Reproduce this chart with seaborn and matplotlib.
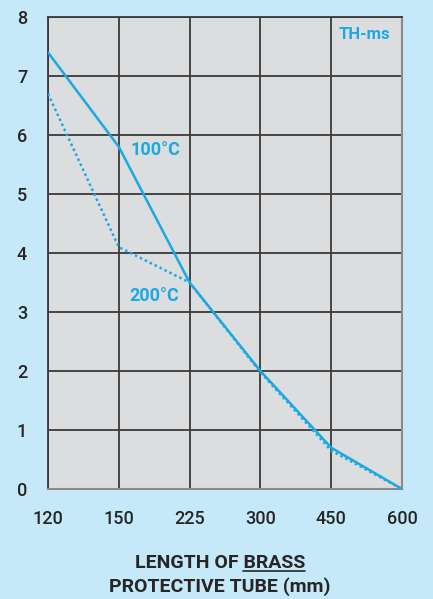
import matplotlib
matplotlib.use("Agg")
import matplotlib.pyplot as plt
import seaborn as sns
import pandas as pd

lengths = ["120", "150", "225", "300", "450", "600"]
temp_100 = [7.4, 5.8, 3.5, 2.0, 0.7, 0.0]
temp_200 = [6.7, 4.1, 3.5, 1.98, 0.65, 0.0]
series_labels = ["100°C", "200°C"]
y_ticks = [0, 1, 2, 3, 4, 5, 6, 7, 8]

BG = "#c6e9f9"
PANEL = "#dcdddf"
CYAN = "#1aa9e1"
GRID = "#3a3a3a"
TXT = "#262626"

sns.set_theme(style="white")
plt.rcParams["font.family"] = ["Roboto", "DejaVu Sans"]

fig = plt.figure(figsize=(4.33, 5.99), dpi=100, facecolor=BG)
ax = fig.add_axes([48/433, 110/599, 354/433, 472/599])
ax.set_facecolor(PANEL)

df = pd.DataFrame({"length": lengths * 2,
                   "value": temp_100 + temp_200,
                   "series": [series_labels[0]] * 6 + [series_labels[1]] * 6})

sns.lineplot(data=df[df.series == series_labels[0]], x="length", y="value",
             color=CYAN, lw=1.8, sort=False, ax=ax, zorder=5)
sns.lineplot(data=df[df.series == series_labels[1]], x="length", y="value",
             color=CYAN, lw=1.8, ls=(0, (1, 1.2)), sort=False, ax=ax, zorder=4)

ax.set_xlim(0, 5)
ax.set_ylim(0, 8)
ax.set_yticks(y_ticks)
ax.set_xticks(range(len(lengths)))
ax.set_xticklabels(lengths)
ax.grid(True, color=GRID, lw=1.3)
ax.set_axisbelow(True)
for s in ["left", "top"]:
    ax.spines[s].set_color(GRID)
    ax.spines[s].set_linewidth(1.3)
for s in ["right", "bottom"]:
    ax.spines[s].set_color("#8a8a8a")
    ax.spines[s].set_linewidth(1.5)
ax.tick_params(axis="both", length=11, width=1.3, color=GRID, labelcolor=TXT,
               labelsize=13, pad=4, direction="out")
for lab in ax.get_xticklabels() + ax.get_yticklabels():
    lab.set_fontweight("medium")
ax.set_xlabel("")
ax.set_ylabel("")

ax.text(1.17, 5.75, series_labels[0], color=CYAN, fontsize=13, fontweight="bold",
        ha="left", va="center")
ax.text(1.15, 3.27, series_labels[1], color=CYAN, fontsize=13, fontweight="bold",
        ha="left", va="center")
ax.text(4.83, 7.71, "TH-ms", color=CYAN, fontsize=12, fontweight="bold",
        ha="right", va="center")

cx = 220 / 433
t1 = fig.text(cx, 1 - 563/599, "LENGTH OF BRASS", ha="center", va="center",
              fontsize=14, fontweight="bold", color=TXT)
fig.text(cx, 1 - 587/599, "PROTECTIVE TUBE (mm)", ha="center", va="center",
         fontsize=14, fontweight="bold", color=TXT)

fig.canvas.draw()
r = fig.canvas.get_renderer()
bb = t1.get_window_extent(r)
tmp = fig.text(0, 0, "BRASS", fontsize=14, fontweight="bold")
wb = tmp.get_window_extent(r).width
tmp.remove()
x1 = bb.x1 / fig.bbox.width
x0 = (bb.x1 - wb) / fig.bbox.width
yu = 1 - 571/599
fig.add_artist(plt.Line2D([x0, x1], [yu, yu], color=TXT, lw=1.2,
                          transform=fig.transFigure))

fig.savefig("out.png", dpi=100, facecolor=BG)
